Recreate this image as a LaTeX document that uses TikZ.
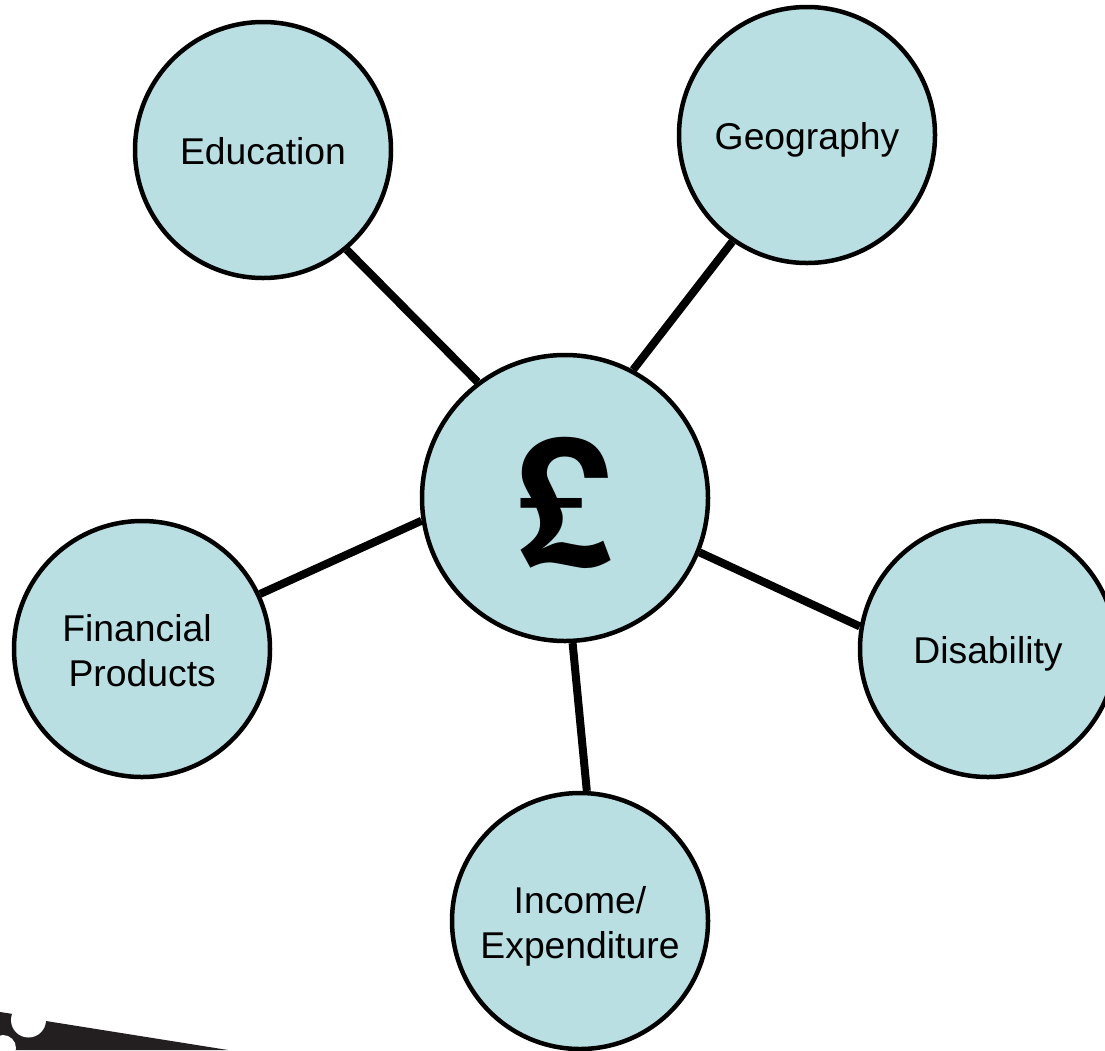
\documentclass[tikz,border=0pt]{standalone}
\usepackage{fontspec}
\setmainfont{Liberation Sans}
\newfontfamily\poundfont{TeX Gyre Heros}
\definecolor{hubfill}{HTML}{B9DFE3}
\definecolor{logoblack}{HTML}{231F20}
\tikzset{
  hub/.style={circle,draw=black,line width=4.5pt,fill=hubfill,minimum size=#1,inner sep=0pt},
  lbl/.style={font=\fontsize{37.3}{45}\selectfont,align=center},
  spoke/.style={line width=8pt,draw=black}
}
\begin{document}
\begin{tikzpicture}[x=1pt,y=-1pt]
\useasboundingbox (0,0) rectangle (1105,1050);
\node[hub=286pt] (c) at (565,498) {};
\node[font=\poundfont\bfseries\fontsize{178}{178}\selectfont] (p) at (565,503) {£};
\node[hub=256pt] (edu) at (263,150) {};
\node[lbl] (edut) at (263,151) {Education};
\node[hub=256pt] (geo) at (807,135) {};
\node[lbl] (geot) at (807,140) {Geography};
\node[hub=256pt] (fin) at (142,649) {};
\node[lbl] (fint) at (137,651) {Financial\\\ Products};
\node[hub=256pt] (dis) at (988,649) {};
\node[lbl] (dist) at (988,654) {Disability};
\node[hub=256pt] (inc) at (580,921) {};
\node[lbl] (inct) at (580,926) {Income/\\Expenditure};
\draw[spoke] (edu.-50) -- (c.127);
\draw[spoke] (geo.-125) -- (c.62);
\draw[spoke] (fin.25) -- (c.-171);
\draw[spoke] (dis.170) -- (c.-22.5);
\draw[spoke] (inc.87) -- (c.-87);
\begin{scope}
\clip (0,0) rectangle (1105,1050);
\fill[logoblack] (0,1012) -- (13,1014) -- (46,1021) -- (228,1050) -- (0,1050) -- cycle;
\fill[white] (28.5,1020) circle[radius=17.5pt];
\fill[white] (3,1048) circle[radius=13pt];
\end{scope}
\end{tikzpicture}
\end{document}
